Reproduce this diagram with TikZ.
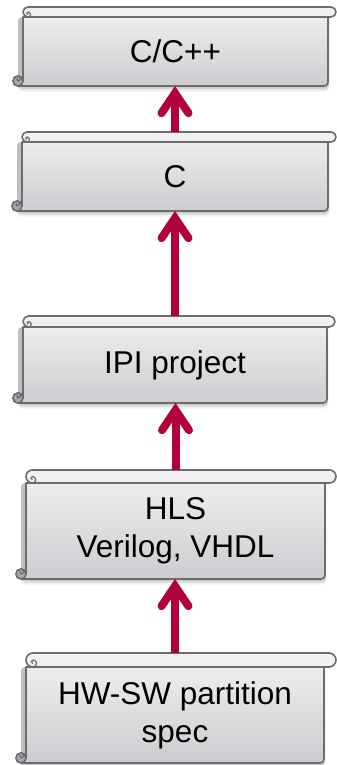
\documentclass[tikz,border=0pt]{standalone}
\usepackage{fontspec}
\setmainfont{Liberation Sans}
\usetikzlibrary{arrows.meta}
\definecolor{bordercol}{HTML}{6B6B70}
\definecolor{bodytop}{HTML}{EDEDEF}
\definecolor{bodybot}{HTML}{CDCDD1}
\definecolor{barcol}{HTML}{F1F1F3}
\definecolor{curlcol}{HTML}{A9A9AE}
\definecolor{arrowcol}{RGB}{178,0,58}
\tikzset{
  outline/.style={draw=bordercol, line width=1.6pt, line join=round},
  frame/.style={inner sep=0pt, outer sep=0pt},
  txt/.style={font=\fontsize{31.5}{38}\selectfont, align=center, inner sep=0pt},
  conn/.style={draw=arrowcol, line width=8pt,
    -{Straight Barb[length=20pt, width=27pt, line cap=round, line join=miter]}},
}
% #1 name, #2 L, #3 R, #4 bar right, #5 top, #6 bar bottom, #7 bottom, #8 text
\newcommand{\scrollbox}[8]{%
  \pgfmathsetmacro{\rr}{(#5-#6)/2}%
  \pgfmathsetmacro{\bcx}{(#2+#3)/2}%
  \pgfmathsetmacro{\bxw}{#3-#2}%
  \pgfmathsetmacro{\bxh}{#5-#7}%
  \pgfmathsetmacro{\bfy}{(#5+#7)/2}%
  \pgfmathsetmacro{\bty}{(#6+#7)/2}%
  \def\rb{5}%
  \foreach \s/\o in {1.5/0.10, 3/0.08, 4.5/0.06, 6/0.04}{%
    \fill[black, opacity=\o, rounded corners=4pt] (#2-\rb, #7-\s) rectangle (#3+1, #6);
  }
  \path[outline, top color=bodytop, bottom color=bodybot]
    (#2,#6) -- (#2,#7+\rb) arc[start angle=0, end angle=270, radius=\rb]
    -- (#3-4,#7) arc[start angle=270, end angle=360, radius=4] -- (#3,#6) -- cycle;
  \draw[outline, fill=curlcol] (#2-\rb,#7+\rb) circle[radius=\rb];
  \draw[outline, line width=1.2pt] (#2-\rb,#7+2*\rb) arc[start angle=90, end angle=-90, radius=\rb/2]
    arc[start angle=-90, end angle=-270, radius=\rb/4];
  \draw[outline, fill=barcol, rounded corners=\rr pt] (#2,#6) rectangle (#4,#5);
  \draw[outline, line width=1.2pt] (#2+\rr,#6) arc[start angle=-90, end angle=90, radius=\rr/2]
    arc[start angle=90, end angle=270, radius=\rr/4];
  \node[frame, minimum width=\bxw pt, minimum height=\bxh pt] (#1) at (\bcx,\bfy) {};
  \node[txt] (#1-t) at (\bcx,\bty) {#8};
}
\begin{document}
\begin{tikzpicture}[x=1pt,y=1pt]
\useasboundingbox (0,0) rectangle (337,765);
\scrollbox{b1}{23}{328}{336}{758}{748}{679}{C/C++}
\scrollbox{b2}{22}{328}{336}{633}{623}{554}{C}
\scrollbox{b3}{23}{327}{335}{449}{438}{362}{IPI project}
\scrollbox{b4}{26}{325}{336}{295}{282}{186}{HLS\\Verilog, VHDL}
\scrollbox{b5}{26}{324}{336}{112}{98}{2}{HW-SW partition\\spec}
\draw[conn] (b2.north) -- (b2.north |- b1.south);
\draw[conn] (b3.north) -- (b3.north |- b2.south);
\draw[conn] (b4.north) -- (b4.north |- b3.south);
\draw[conn] (b5.north) -- (b5.north |- b4.south);
\end{tikzpicture}
\end{document}
